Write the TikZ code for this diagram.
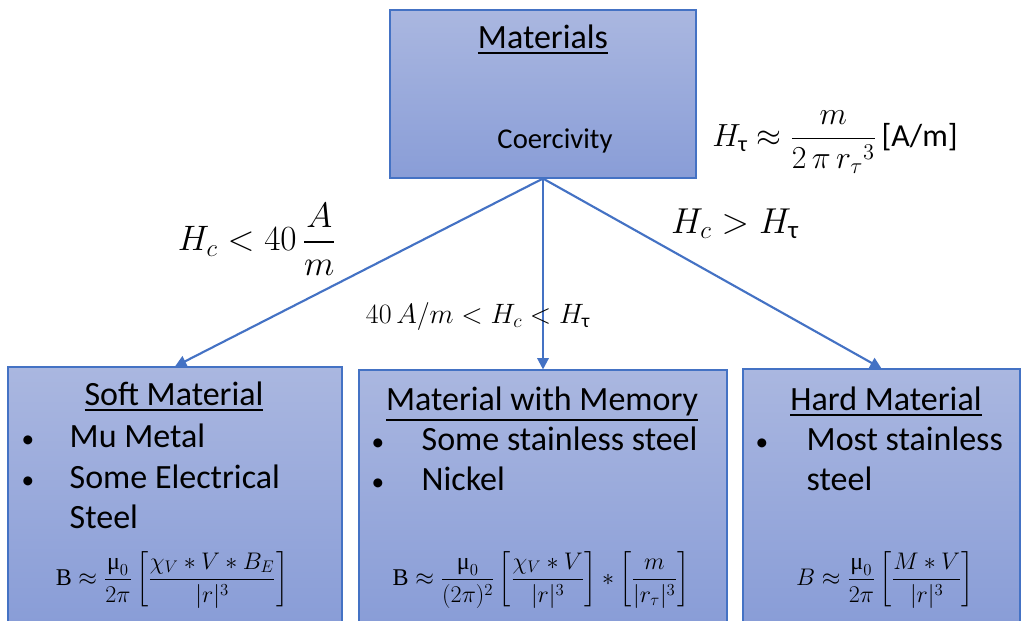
\RequirePackage{fix-cm}
\documentclass[tikz,border=0pt]{standalone}
\usepackage{amsmath}
\usepackage{fontspec}
\setmainfont{Carlito}
\newfontfamily\uprightserif{Liberation Serif}
\usetikzlibrary{arrows.meta, positioning}
\definecolor{edgeblue}{RGB}{68, 114, 196}
\definecolor{filltop}{RGB}{170, 183, 224}
\definecolor{fillbottom}{RGB}{137, 157, 215}
\newcommand{\upB}{\text{\uprightserif B}}
\newcommand{\upmu}{\text{\uprightserif μ}}

\begin{document}
\begin{tikzpicture}[x=0.75pt, y=-0.75pt,
    matbox/.style={draw=edgeblue, line width=0.8pt, top color=filltop,
                   bottom color=fillbottom, inner sep=0pt},
    link/.style={draw=edgeblue, line width=1.6pt, -{Triangle[length=8.5pt, width=8.5pt]}},
    heading/.style={anchor=base, font=\fontsize{25.5}{30}\selectfont},
    bullet/.style={anchor=base, font=\fontsize{19}{24}\selectfont},
    entry/.style={anchor=base west, font=\fontsize{25.5}{30}\selectfont},
    law/.style={font=\fontsize{18}{21}\selectfont}
]
    \useasboundingbox (0,0) rectangle (1021,621);

    % boxes
    \node[matbox, minimum width=229.5pt, minimum height=126pt] (materials) at (543,94) {};
    \node[matbox, minimum width=250.5pt, minimum height=191.25pt] (soft) at (175,494.5) {};
    \node[matbox, minimum width=276pt, minimum height=189pt] (memory) at (543,496) {};
    \node[matbox, minimum width=207.75pt, minimum height=189.75pt] (hard) at (881.5,495.5) {};

    % top box
    \node[heading] (materialsT) at (543,48) {\underline{Materials}};
    \node[anchor=base, font=\fontsize{21.5}{26}\selectfont] (coercivity) at (555,148) {Coercivity};
    \node[font=\fontsize{24}{28}\selectfont] (tau) at (835,142)
        {$H_{\text{τ}} \approx \dfrac{m}{2\,\pi\, r_\tau{}^3}$\,[A/m]};

    % connectors
    \draw[link] (materials.south) -- (soft.north);
    \draw[link] (materials.south) -- (memory.north);
    \draw[link] (materials.south) -- (hard.north);

    % conditions
    \node[font=\fontsize{26.5}{30}\selectfont] (lowH) at (257,239) {$H_c < 40\,\dfrac{A}{m}$};
    \node[anchor=base, font=\fontsize{21}{25}\selectfont] (midH) at (478,323)
        {$40\,A/m < H_c < H_{\text{τ}}$};
    \node[anchor=base, font=\fontsize{27}{31}\selectfont] (highH) at (735,233)
        {$H_c > H_{\text{τ}}$};

    % soft material
    \node[heading] (softT) at (174,405) {\underline{Soft Material}};
    \node[bullet] at (28,447) {•};
    \node[entry] (mu) at (65,447) {Mu Metal};
    \node[bullet] at (28,488) {•};
    \node[entry] (electrical) at (65,488) {Some Electrical};
    \node[entry] (steel) at (65,528) {Steel};
    \node[law] (softB) at (172,580)
        {$\upB \approx \dfrac{\upmu_0}{2\pi}\left[\dfrac{\chi_V * V * B_E}{|r|^3}\right]$};

    % material with memory
    \node[heading] (memoryT) at (542,410) {\underline{Material with Memory}};
    \node[bullet] at (378,450) {•};
    \node[entry] (stainless) at (417,450) {Some stainless steel};
    \node[bullet] at (378,490) {•};
    \node[entry] (nickel) at (417,490) {Nickel};
    \node[law] (memoryB) at (541,580)
        {$\upB \approx \dfrac{\upmu_0}{(2\pi)^2}\left[\dfrac{\chi_V * V}{|r|^3}\right] * \left[\dfrac{m}{|r_\tau|^3}\right]$};

    % hard material
    \node[heading] (hardT) at (886,410) {\underline{Hard Material}};
    \node[bullet] at (762,450) {•};
    \node[entry] (most) at (802,450) {Most stainless};
    \node[entry] (steel2) at (802,490) {steel};
    \node[law] (hardB) at (885,580)
        {$B \approx \dfrac{\upmu_0}{2\pi}\left[\dfrac{M * V}{|r|^3}\right]$};
\end{tikzpicture}
\end{document}
